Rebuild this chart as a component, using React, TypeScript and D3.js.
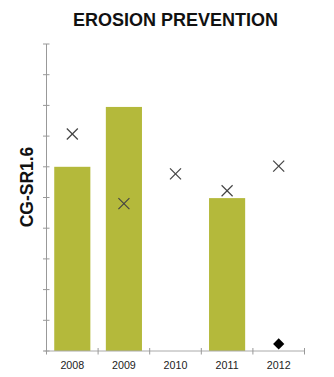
import React from "react";
import * as d3 from "d3";

const years = ["2008", "2009", "2010", "2011", "2012"];
const barValues: (number | null)[] = [6, 7.95, null, 4.98, null];
const crossValues: number[] = [7.07, 4.8, 5.77, 5.22, 6.02];
const diamondValues: (number | null)[] = [null, null, null, null, 0.23];
const yTicks = [0, 1, 2, 3, 4, 5, 6, 7, 8, 9, 10];

const W = 334, H = 377;
const left = 46.5, right = 304.5, top = 44, bottom = 351;

export default function App() {
  const x = d3.scaleBand<string>().domain(years).range([left, right]).paddingInner(0.3).paddingOuter(0.15);
  const xb = d3.scaleBand<string>().domain(years).range([left, right]);
  const y = d3.scaleLinear().domain([0, 10]).range([bottom, top]);
  const cs = 5.5;
  return (
    <svg width={W} height={H} style={{ position: "absolute", left: 0, top: 0 }} fontFamily="'Liberation Sans', Arial, sans-serif">
      <text x={175.5} y={25.5} textAnchor="middle" fontSize={18} fontWeight="bold" fill="#111">EROSION PREVENTION</text>
      <text transform={`translate(33,187) rotate(-90)`} textAnchor="middle" fontSize={17.5} fontWeight="bold" fill="#111">CG-SR1.6</text>
      {barValues.map((v, i) => v == null ? null : (
        <rect key={i} x={x(years[i])!} y={y(v)} width={x.bandwidth()} height={bottom - y(v)} fill="#b4b93b" />
      ))}
      <line x1={left} x2={left} y1={top} y2={bottom} stroke="#999" strokeWidth={1} />
      {yTicks.map(t => (
        <line key={t} x1={left - 3.5} x2={left + 3} y1={y(t)} y2={y(t)} stroke="#999" strokeWidth={1} />
      ))}
      <line x1={left - 2} x2={right + 0.5} y1={bottom} y2={bottom} stroke="#aaa" strokeWidth={1} />
      {[...years.map(d => xb(d)!), right].map((p, i) => (
        <line key={i} x1={p} x2={p} y1={bottom - 3} y2={bottom + 3.5} stroke="#999" strokeWidth={1} />
      ))}
      {years.map(d => (
        <text key={d} x={xb(d)! + xb.bandwidth() / 2} y={369} textAnchor="middle" fontSize={10.7} fill="#222">{d}</text>
      ))}
      {crossValues.map((v, i) => {
        const cx = xb(years[i])! + xb.bandwidth() / 2;
        const cy = y(v);
        return (
          <g key={i} stroke="#444" strokeWidth={1.2}>
            <line x1={cx - cs} y1={cy - cs} x2={cx + cs} y2={cy + cs} />
            <line x1={cx - cs} y1={cy + cs} x2={cx + cs} y2={cy - cs} />
          </g>
        );
      })}
      {diamondValues.map((v, i) => v == null ? null : (
        <path key={i} d={d3.symbol(d3.symbolDiamond2, 80)()!} transform={`translate(${xb(years[i])! + xb.bandwidth() / 2},${y(v)})`} fill="#000" />
      ))}
    </svg>
  );
}
